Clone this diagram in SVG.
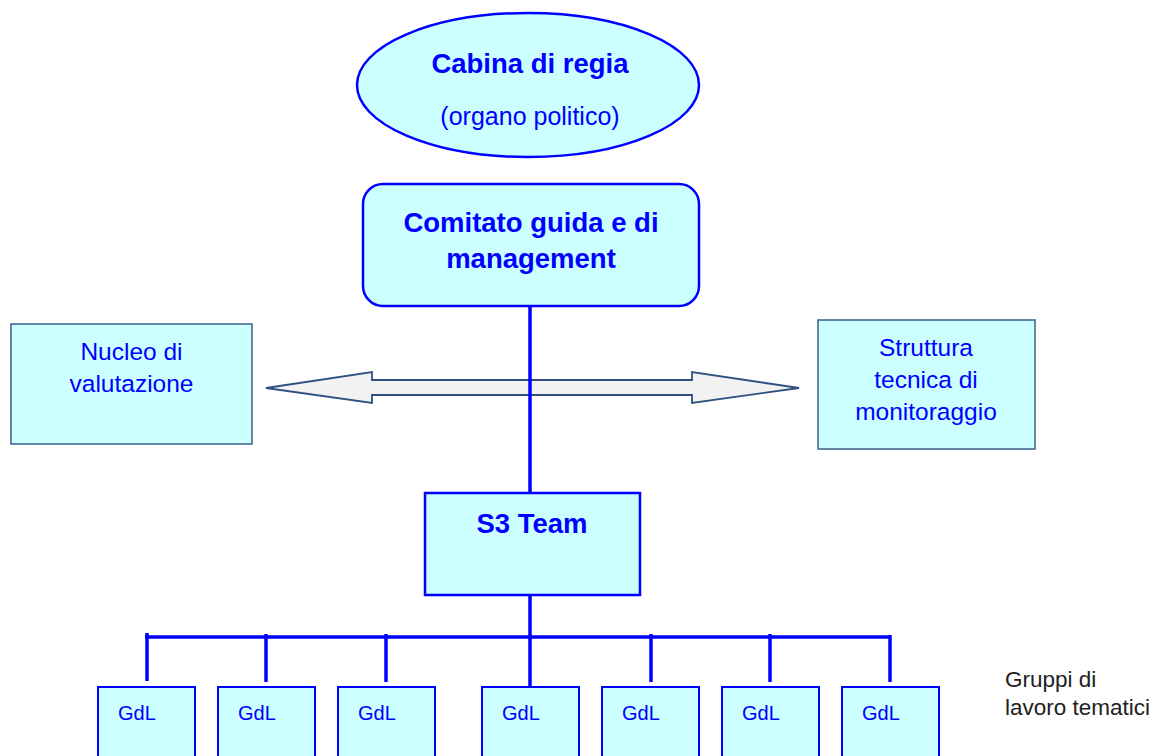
<svg xmlns="http://www.w3.org/2000/svg" width="1155" height="756" viewBox="0 0 1155 756">
<style>
.bg{fill:#fff}
.node{fill:#CCFFFF;stroke:#0000FF;stroke-width:2.5}
.side{fill:#CCFFFF;stroke:#3A5F8A;stroke-width:1.5}
.gdl{fill:#CCFFFF;stroke:#0000FF;stroke-width:2}
.t{font-family:"Liberation Sans",Arial,sans-serif;fill:#0000FF}
.b{font-weight:bold;font-size:27.5px}
.r{font-size:24.5px}
.g{font-size:20px}
.note{font-family:"Liberation Sans",Arial,sans-serif;fill:#222;font-size:22.5px}
.ln{stroke:#0000FF;stroke-width:3.5;fill:none}
.arrow{fill:#F2F2F2;stroke:#2F5080;stroke-width:1.8;stroke-linejoin:miter}
</style>
<rect class="bg" x="0" y="0" width="1155" height="756"/>
<g id="cabina">
<ellipse class="node" cx="528" cy="85" rx="171" ry="72"/>
<text class="t b" x="530" y="73" text-anchor="middle">Cabina di regia</text>
<text class="t" x="530" y="125" text-anchor="middle" font-size="25">(organo politico)</text>
</g>
<g id="comitato">
<rect class="node" x="363" y="184" width="336" height="122" rx="20" ry="20"/>
<text class="t b" x="531" y="232" text-anchor="middle">Comitato guida e di</text>
<text class="t b" x="531" y="268" text-anchor="middle">management</text>
</g>
<g id="nucleo">
<rect class="side" x="11" y="324" width="241" height="120"/>
<text class="t r" x="131.5" y="360" text-anchor="middle">Nucleo di</text>
<text class="t r" x="131.5" y="392" text-anchor="middle">valutazione</text>
</g>
<g id="struttura">
<rect class="side" x="818" y="320" width="217" height="129"/>
<text class="t r" x="926" y="356" text-anchor="middle">Struttura</text>
<text class="t r" x="926" y="388" text-anchor="middle">tecnica di</text>
<text class="t r" x="926" y="420" text-anchor="middle">monitoraggio</text>
</g>
<g id="connectors">
<polygon class="arrow" points="266,388 372,372 372,380 692,380 692,372 799,388 692,403 692,395 372,395 372,403"/>
<line class="ln" x1="530" y1="307" x2="530" y2="492"/>
<line class="ln" x1="530" y1="596" x2="530" y2="687"/>
<line class="ln" x1="145" y1="637" x2="890" y2="637"/>
<line class="ln" x1="147" y1="633" x2="147" y2="681"/>
<line class="ln" x1="266" y1="634" x2="266" y2="682"/>
<line class="ln" x1="386" y1="634" x2="386" y2="682"/>
<line class="ln" x1="651" y1="634" x2="651" y2="682"/>
<line class="ln" x1="770" y1="634" x2="770" y2="682"/>
<line class="ln" x1="890" y1="635" x2="890" y2="682"/>
</g>
<g id="s3team">
<rect class="node" x="425" y="493" width="215" height="102"/>
<text class="t b" x="532" y="533" text-anchor="middle">S3 Team</text>
</g>
<g id="gdl1"><rect class="gdl" x="98" y="687" width="97" height="80"/><text class="t g" x="118" y="720">GdL</text></g>
<g id="gdl2"><rect class="gdl" x="218" y="687" width="97" height="80"/><text class="t g" x="238" y="720">GdL</text></g>
<g id="gdl3"><rect class="gdl" x="338" y="687" width="97" height="80"/><text class="t g" x="358" y="720">GdL</text></g>
<g id="gdl4"><rect class="gdl" x="482" y="687" width="97" height="80"/><text class="t g" x="502" y="720">GdL</text></g>
<g id="gdl5"><rect class="gdl" x="602" y="687" width="97" height="80"/><text class="t g" x="622" y="720">GdL</text></g>
<g id="gdl6"><rect class="gdl" x="722" y="687" width="97" height="80"/><text class="t g" x="742" y="720">GdL</text></g>
<g id="gdl7"><rect class="gdl" x="842" y="687" width="97" height="80"/><text class="t g" x="862" y="720">GdL</text></g>
<g id="note">
<text class="note" x="1005" y="687">Gruppi di</text>
<text class="note" x="1005" y="715">lavoro tematici</text>
</g>
</svg>
